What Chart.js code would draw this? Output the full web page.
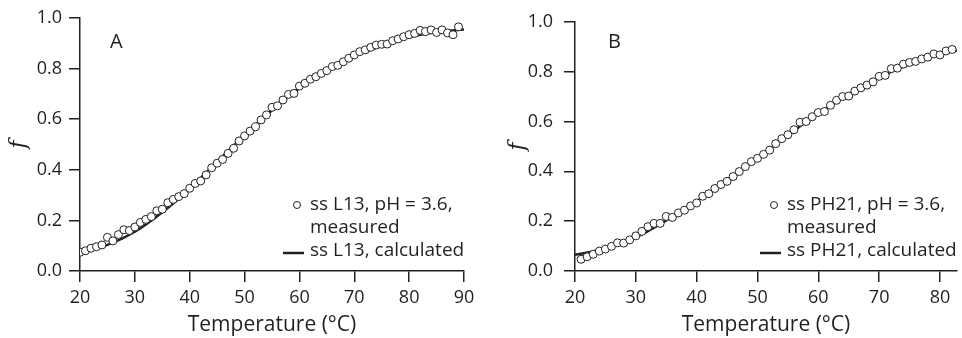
<!DOCTYPE html>
<html>
<head>
<meta charset="utf-8">
<title>Fraction f vs temperature</title>
<script src="https://cdn.jsdelivr.net/npm/chart.js@4.4.1/dist/chart.umd.min.js"></script>
<style>
  html, body { margin: 0; padding: 0; background: #fff; }
  #wrap { position: relative; width: 962px; height: 338px; overflow: hidden; }
  .panel { position: absolute; top: 0; height: 338px; }
  #panelA { left: 0; width: 480px; }
  #panelB { left: 480px; width: 482px; }
</style>
</head>
<body>
<div id="wrap">
  <div class="panel" id="panelA"><canvas id="chartA" width="480" height="338"></canvas></div>
  <div class="panel" id="panelB"><canvas id="chartB" width="482" height="338"></canvas></div>
</div>
<script>
// panel A - ss L13, measured points (°C, f)
const tempA = [20, 21, 22, 23, 24, 25, 26, 27, 28, 29, 30, 31, 32, 33, 34, 35, 36, 37, 38, 39,
  40, 41, 42, 43, 44, 45, 46, 47, 48, 49, 50, 51, 52, 53, 54, 55, 56, 57, 58, 59,
  60, 61, 62, 63, 64, 65, 66, 67, 68, 69, 70, 71, 72, 73, 74, 75, 76, 77, 78, 79,
  80, 81, 82, 83, 84, 85, 86, 87, 88, 89];
const measuredA = [0.074, 0.080, 0.090, 0.096, 0.103, 0.133, 0.119, 0.144, 0.163, 0.160,
  0.174, 0.192, 0.204, 0.215, 0.238, 0.244, 0.270, 0.283, 0.294, 0.306,
  0.327, 0.346, 0.356, 0.380, 0.408, 0.426, 0.441, 0.465, 0.485, 0.514,
  0.534, 0.553, 0.570, 0.597, 0.617, 0.647, 0.653, 0.676, 0.698, 0.702,
  0.731, 0.742, 0.758, 0.768, 0.781, 0.792, 0.808, 0.813, 0.827, 0.841,
  0.854, 0.867, 0.874, 0.884, 0.893, 0.896, 0.897, 0.910, 0.917, 0.926,
  0.934, 0.939, 0.951, 0.946, 0.953, 0.943, 0.953, 0.941, 0.934, 0.965];
// panel A - calculated curve
const calcTempA = [20, 25, 30, 35, 40, 45, 50, 55, 60, 65, 70, 75, 80, 85, 90];
const calcA = [0.075, 0.103, 0.155, 0.232, 0.325, 0.432, 0.537, 0.635, 0.722, 0.792, 0.848, 0.890, 0.925, 0.945, 0.955];

// panel B - ss PH21, measured points
const tempB = [21, 22, 23, 24, 25, 26, 27, 28, 29, 30, 31, 32, 33, 34, 35, 36, 37, 38, 39, 40,
  41, 42, 43, 44, 45, 46, 47, 48, 49, 50, 51, 52, 53, 54, 55, 56, 57, 58, 59, 60,
  61, 62, 63, 64, 65, 66, 67, 68, 69, 70, 71, 72, 73, 74, 75, 76, 77, 78, 79, 80,
  81, 82];
const measuredB = [0.047, 0.057, 0.067, 0.080, 0.088, 0.099, 0.113, 0.112, 0.125, 0.141,
  0.159, 0.178, 0.191, 0.191, 0.219, 0.215, 0.233, 0.244, 0.261, 0.273,
  0.300, 0.310, 0.331, 0.347, 0.360, 0.379, 0.399, 0.419, 0.439, 0.452,
  0.468, 0.485, 0.511, 0.531, 0.547, 0.567, 0.597, 0.600, 0.619, 0.636,
  0.640, 0.665, 0.685, 0.700, 0.702, 0.722, 0.735, 0.746, 0.759, 0.781,
  0.785, 0.812, 0.814, 0.830, 0.837, 0.841, 0.851, 0.858, 0.871, 0.867,
  0.883, 0.889];
const calcTempB = [20, 25, 30, 35, 40, 45, 50, 55, 60, 65, 70, 75, 80, 85];
const calcB = [0.065, 0.090, 0.135, 0.203, 0.280, 0.363, 0.452, 0.545, 0.632, 0.708, 0.776, 0.830, 0.870, 0.895];

const yTicks = [0, 0.2, 0.4, 0.6, 0.8, 1.0];
const xTicksA = [20, 30, 40, 50, 60, 70, 80, 90];
const xTicksB = [20, 30, 40, 50, 60, 70, 80];

const ink = "#231f20";
const sans = "'Open Sans', 'Noto Sans', sans-serif";

function pairs(xs, ys) {
  return xs.map((x, i) => ({ x: x, y: ys[i] }));
}

// legend + panel letter drawn inside the plot
const insideLegend = {
  id: "insideLegend",
  afterDraw(chart, args, opts) {
    const ctx = chart.ctx;
    ctx.save();
    ctx.fillStyle = ink;
    ctx.strokeStyle = ink;
    ctx.textBaseline = "middle";
    ctx.textAlign = "left";
    ctx.font = "20px " + sans;
    ctx.fillText(opts.letter, opts.letterX, opts.letterY);

    ctx.font = "19px " + sans;
    let y = opts.y;
    chart.data.datasets.forEach(ds => {
      if (ds.showLine) {
        ctx.lineWidth = 2.5;
        ctx.beginPath();
        ctx.moveTo(opts.x - 27, y + 2);
        ctx.lineTo(opts.x - 6, y + 2);
        ctx.stroke();
      } else {
        ctx.lineWidth = 1;
        ctx.beginPath();
        ctx.arc(opts.x - 13, y, 3.5, 0, Math.PI * 2);
        ctx.fillStyle = "#fff";
        ctx.fill();
        ctx.stroke();
        ctx.fillStyle = ink;
      }
      ds.label.split("\n").forEach(line => {
        ctx.fillText(line, opts.x, y);
        y += opts.lineHeight;
      });
    });
    ctx.restore();
  }
};

function makeChart(id, cfg) {
  const ctx = document.getElementById(id).getContext("2d");
  return new Chart(ctx, {
    type: "scatter",
    data: {
      datasets: [{
        label: cfg.name + ", pH = 3.6,\nmeasured",
        data: pairs(cfg.temp, cfg.measured),
        showLine: false,
        pointRadius: 4,
        pointBorderWidth: 1,
        pointBackgroundColor: "#fff",
        pointBorderColor: ink
      }, {
        label: cfg.name + ", calculated",
        data: pairs(cfg.calcTemp, cfg.calc),
        showLine: true,
        borderColor: ink,
        borderWidth: 2.5,
        pointRadius: 0,
        cubicInterpolationMode: "monotone"
      }]
    },
    plugins: [insideLegend],
    options: {
      responsive: false,
      animation: false,
      layout: { padding: { top: 18, right: cfg.padRight, bottom: 0, left: 0 } },
      plugins: {
        legend: { display: false },
        tooltip: { enabled: false },
        insideLegend: cfg.legend
      },
      scales: {
        x: {
          type: "linear",
          min: 20,
          max: cfg.xMax,
          afterFit: s => { s.height = 67; },
          afterBuildTicks: s => { s.ticks = cfg.xTicks.map(v => ({ value: v })); },
          grid: { drawOnChartArea: false, drawTicks: true, tickLength: 11, color: ink, lineWidth: 1.5 },
          border: { display: true, color: ink, width: 1.5 },
          ticks: { color: ink, padding: 5, font: { family: sans, size: 18 }, maxRotation: 0 },
          title: {
            display: true,
            text: "Temperature (°C)",
            color: ink,
            font: { family: sans, size: 21 },
            padding: { top: 0, bottom: 0 }
          }
        },
        y: {
          min: 0,
          max: 1,
          afterFit: s => { s.width = cfg.yWidth; },
          afterBuildTicks: s => { s.ticks = yTicks.map(v => ({ value: v })); },
          grid: { drawOnChartArea: false, drawTicks: true, tickLength: 11, color: ink, lineWidth: 1.5 },
          border: { display: true, color: ink, width: 1.5 },
          ticks: {
            color: ink,
            padding: cfg.yPad,
            font: { family: sans, size: 18 },
            callback: v => v.toFixed(1)
          },
          title: {
            display: true,
            text: "f",
            color: ink,
            font: { family: "'DejaVu Serif', serif", size: 22, style: "italic" },
            padding: { top: cfg.fPad, bottom: 0 }
          }
        }
      }
    }
  });
}

makeChart("chartA", {
  name: "ss L13",
  temp: tempA, measured: measuredA,
  calcTemp: calcTempA, calc: calcA,
  xMax: 90, xTicks: xTicksA,
  padRight: 16, yWidth: 80, yPad: 7, fPad: 6,
  legend: { letter: "A", letterX: 110, letterY: 42, x: 310, y: 205, lineHeight: 23 }
});

makeChart("chartB", {
  name: "ss PH21",
  temp: tempB, measured: measuredB,
  calcTemp: calcTempB, calc: calcB,
  xMax: 82.8, xTicks: xTicksB,
  padRight: 0, yWidth: 95, yPad: 11, fPad: 25,
  legend: { letter: "B", letterX: 128, letterY: 42, x: 307, y: 205, lineHeight: 23 }
});
</script>
</body>
</html>
